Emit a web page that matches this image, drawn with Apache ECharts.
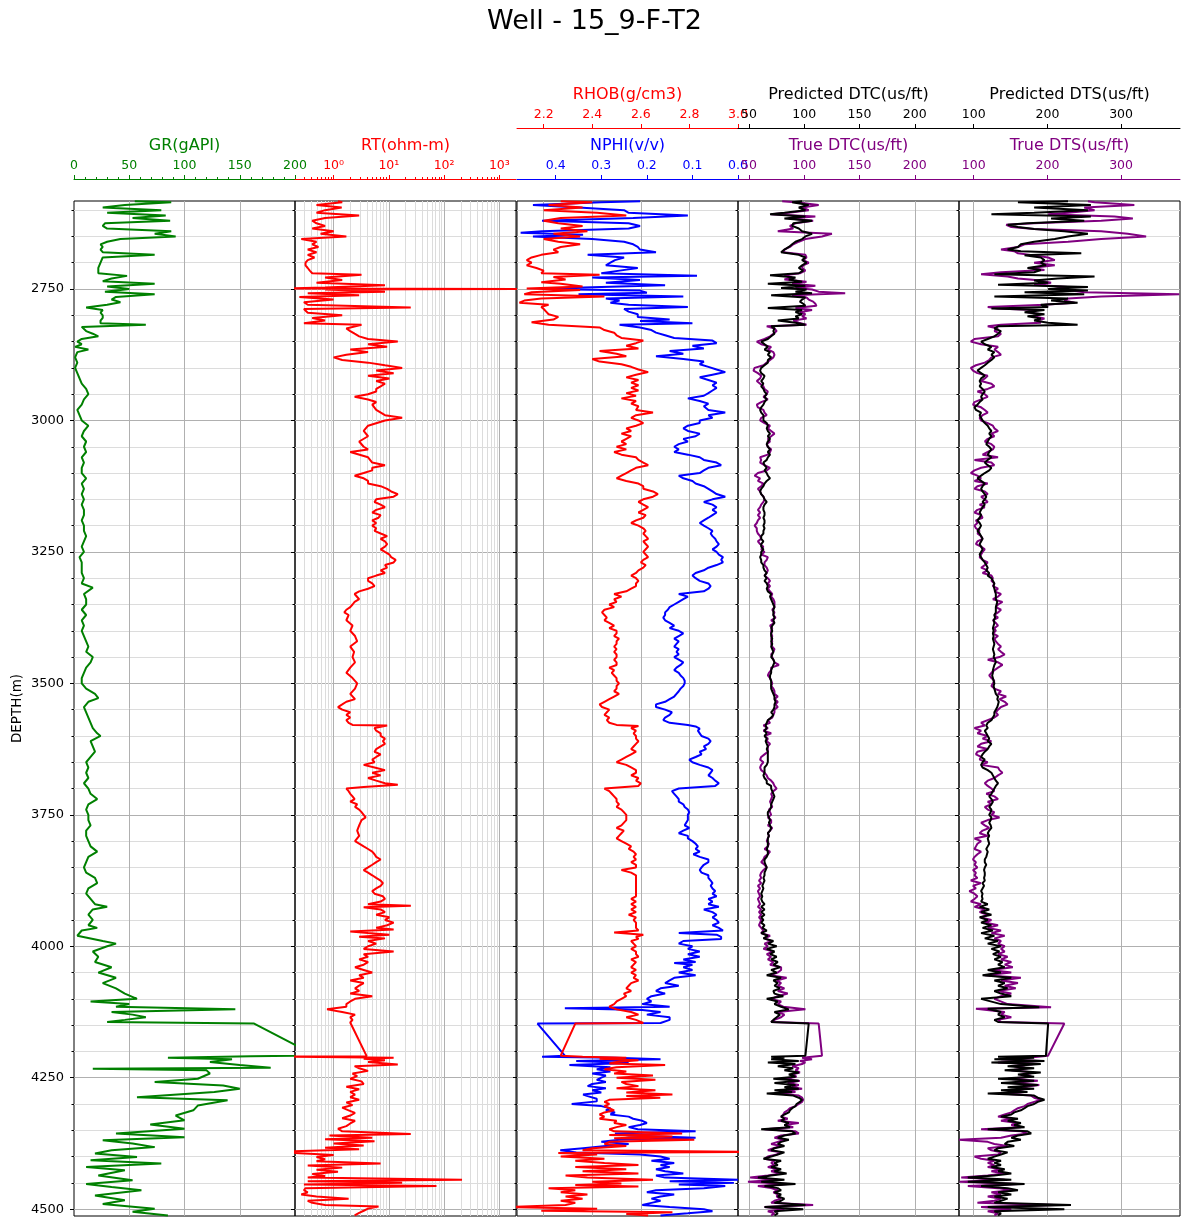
<!DOCTYPE html>
<html>
<head>
<meta charset="utf-8">
<title>Well - 15_9-F-T2</title>
<script src="https://cdn.jsdelivr.net/npm/echarts@6/dist/echarts.min.js"></script>
<style>
html, body { margin: 0; padding: 0; background: #fff; }
#chart { width: 1189px; height: 1228px; }
</style>
</head>
<body>
<div id="chart"></div>
<script>
// ---- depth axis ----
var depthTicks = [2750, 3000, 3250, 3500, 3750, 4000, 4250, 4500];
var depthMinorTicks = [2600, 2650, 2700, 2800, 2850, 2900, 2950, 3050, 3100, 3150, 3200, 3300, 3350, 3400, 3450,
    3550, 3600, 3650, 3700, 3800, 3850, 3900, 3950, 4050, 4100, 4150, 4200, 4300, 4350, 4400, 4450];

// ---- track tick values ----
var rtTicks = [1, 10, 100, 1000];
var rtMinorTicks = [0.3, 0.4, 0.5, 0.6, 0.7, 0.8, 0.9, 2, 3, 4, 5, 6, 7, 8, 9, 20, 30, 40, 50, 60, 70, 80, 90,
    200, 300, 400, 500, 600, 700, 800, 900];
var nphiTicks = [0.4, 0.3, 0.2, 0.1, 0.0];
var rhobTicks = [2.2, 2.4, 2.6, 2.8, 3.0];
var dtcTicks = [50, 100, 150, 200];
var dtsTicks = [100, 200, 300];

// ---- logs: [depth, value] ----
var grLog = [
[2583,55],[2585,88],[2590,46],[2595,26],[2600,79],[2605,30],[2610,83],[2615,53],[2620,87],[2625,28],[2630,26],[2635,30],
[2640,88],[2645,73],[2650,92],[2655,42],[2660,30],[2665,24],[2670,26],[2675,24],[2680,26],[2685,73],[2690,26],[2700,24],
[2710,22],[2720,22],[2725,48],[2730,34],[2735,26],[2740,73],[2745,30],[2750,50],[2755,28],[2760,73],[2765,38],[2770,34],
[2775,42],[2780,30],[2785,11],[2790,26],[2795,24],[2800,26],[2805,26],[2810,24],[2815,24],[2818,65],[2822,7],[2830,11],
[2835,17],[2840,22],[2845,7],[2850,3],[2855,7],[2860,1],[2865,13],[2870,3],[2880,1],[2890,3],[2900,1],[2910,3],[2920,5],
[2930,7],[2940,11],[2950,13],[2960,9],[2970,7],[2980,3],[2990,5],[3000,7],[3010,13],[3020,9],[3030,7],[3040,11],[3050,9],
[3060,11],[3070,7],[3080,9],[3090,7],[3100,7],[3110,11],[3120,7],[3130,9],[3140,7],[3150,9],[3160,7],[3170,9],[3180,9],
[3190,7],[3200,9],[3210,9],[3220,11],[3230,9],[3240,7],[3250,9],[3260,5],[3270,7],[3280,7],[3290,7],[3300,9],[3310,7],
[3318,17],[3330,9],[3340,11],[3350,11],[3360,7],[3370,11],[3380,7],[3390,9],[3400,7],[3410,9],[3420,11],[3430,13],[3440,11],
[3450,17],[3460,15],[3470,11],[3480,9],[3490,7],[3500,7],[3510,11],[3520,19],[3528,22],[3535,13],[3545,9],[3555,11],
[3565,13],[3575,15],[3585,17],[3595,21],[3600,24],[3610,15],[3620,17],[3630,19],[3640,15],[3650,11],[3660,13],[3670,11],
[3680,13],[3690,9],[3700,13],[3710,15],[3720,21],[3730,13],[3740,11],[3750,13],[3760,13],[3770,15],[3780,11],[3790,11],
[3800,13],[3810,15],[3820,21],[3830,13],[3840,11],[3850,9],[3860,11],[3870,19],[3880,21],[3890,13],[3900,11],[3910,15],
[3920,19],[3925,30],[3930,17],[3940,13],[3950,17],[3960,13],[3965,21],[3970,7],[3980,3],[3990,26],[3995,38],[4000,30],
[4010,17],[4020,22],[4030,19],[4040,34],[4050,22],[4060,38],[4070,26],[4080,38],[4090,46],[4100,57],[4105,15],[4110,50],
[4115,38],[4120,146],[4125,34],[4130,53],[4135,65],[4140,46],[4144,30],[4147,163],[4208,219],[4209,160],[4212,85],
[4215,143],[4220,123],[4226,150],[4231,178],[4233,17],[4236,120],[4242,123],[4252,112],[4258,73],[4265,135],[4271,150],
[4277,127],[4287,57],[4293,139],[4303,112],[4312,108],[4322,92],[4331,100],[4339,69],[4347,100],[4356,38],[4363,100],
[4369,26],[4375,53],[4382,73],[4388,34],[4394,19],[4401,57],[4407,15],[4413,79],[4420,11],[4426,46],[4436,22],[4445,53],
[4452,11],[4458,34],[4464,61],[4474,19],[4483,46],[4490,26],[4499,73],[4505,53],[4512,85]
];

var rtLog = [
[2583,1.2],[2585,1.43],[2590,0.49],[2595,1.4],[2600,0.7],[2605,0.49],[2610,2.9],[2615,0.7],[2620,0.41],[2625,0.49],
[2630,0.7],[2635,0.41],[2640,1.0],[2645,0.58],[2650,1.7],[2655,0.26],[2660,0.49],[2665,0.41],[2670,0.53],[2675,0.34],
[2680,0.49],[2685,0.34],[2690,0.45],[2695,0.34],[2700,0.31],[2705,0.31],[2710,0.34],[2715,0.37],[2720,0.41],[2723,3.2],
[2728,0.7],[2733,1.43],[2738,0.49],[2743,8.5],[2747,0.7],[2749,0.15],[2750,5000],[2751,0.7],[2755,8.5],[2758,0.34],
[2762,2.9],[2765,0.24],[2770,1.0],[2775,0.29],[2780,0.34],[2785,24.9],[2788,0.29],[2795,0.34],[2800,1.43],[2805,0.41],
[2810,0.7],[2815,0.29],[2818,3.2],[2825,1.7],[2830,2.0],[2835,2.4],[2840,2.9],[2845,4.2],[2850,14.5],[2855,4.2],
[2860,9.3],[2865,2.0],[2870,4.2],[2875,1.7],[2880,1.0],[2885,1.43],[2890,4.2],[2895,8.5],[2900,17.4],[2905,5.9],
[2910,12.2],[2915,4.2],[2920,10.2],[2925,5.9],[2930,8.5],[2935,7.1],[2940,5.9],[2945,5.9],[2950,4.2],[2955,2.4],
[2960,4.2],[2965,5.9],[2970,5.0],[2980,5.9],[2990,8.5],[2995,17.4],[3000,8.5],[3010,4.2],[3020,3.5],[3030,4.2],
[3040,2.9],[3050,3.5],[3055,4.2],[3060,2.0],[3070,4.2],[3080,5.0],[3085,8.5],[3090,5.0],[3095,5.0],[3100,3.5],[3105,2.4],
[3110,3.5],[3115,4.2],[3120,4.2],[3125,7.1],[3130,9.3],[3135,11],[3140,14.5],[3145,12.2],[3150,5.9],[3155,5.5],[3160,7.1],
[3165,8.5],[3170,5.9],[3175,5.0],[3180,7.1],[3185,6.5],[3190,5.0],[3195,5.9],[3200,5.0],[3205,5.9],[3210,5.5],[3215,7.1],
[3220,9.3],[3225,7.1],[3230,8.5],[3235,9.3],[3240,8.5],[3245,7.1],[3250,8.5],[3255,10.2],[3260,11],[3265,13.3],[3270,12.2],
[3275,8.5],[3280,9.3],[3285,7.1],[3290,8.5],[3295,5.9],[3300,4.2],[3305,4.2],[3310,5.0],[3315,5.5],[3320,4.2],[3325,2.9],
[3330,2.4],[3340,2.9],[3345,2.4],[3350,2.2],[3355,2.0],[3360,1.7],[3365,1.56],[3370,1.87],[3380,1.7],[3390,2.2],[3400,2.0],
[3410,2.44],[3420,2.67],[3430,2.0],[3440,2.35],[3450,2.2],[3460,2.44],[3470,2.0],[3480,1.7],[3490,2.2],[3500,2.67],
[3510,2.44],[3520,2.0],[3530,2.44],[3535,1.7],[3540,1.43],[3545,1.2],[3550,1.43],[3555,2.0],[3560,1.7],[3565,2.0],
[3570,1.7],[3575,1.87],[3579,2.2],[3580,9.3],[3585,5.5],[3590,5.9],[3595,7.1],[3600,7.1],[3605,8.5],[3610,7.8],[3615,8.5],
[3620,7.1],[3625,5.9],[3630,5.5],[3635,7.1],[3640,5.9],[3645,5.0],[3650,5.5],[3655,3.5],[3660,5.5],[3665,8.5],[3670,5.0],
[3675,7.1],[3680,4.2],[3685,5.9],[3690,8.5],[3693,14.5],[3697,3.5],[3700,1.7],[3705,1.87],[3710,2.0],[3715,2.2],[3720,2.4],
[3725,2.0],[3730,2.67],[3735,2.44],[3740,2.9],[3745,3.2],[3750,3.5],[3755,3.8],[3760,3.2],[3770,2.9],[3780,2.67],
[3790,2.9],[3800,2.44],[3810,3.5],[3815,4.2],[3820,5.0],[3825,5.5],[3830,5.9],[3835,7.1],[3840,5.9],[3845,5.0],[3850,4.2],
[3855,3.5],[3860,4.2],[3865,5.0],[3870,5.9],[3875,7.1],[3880,7.8],[3885,7.1],[3890,5.9],[3895,5.0],[3900,5.5],[3905,7.8],
[3910,8.5],[3915,7.1],[3920,4.2],[3923,25],[3926,3.5],[3930,7.1],[3935,8.5],[3940,5.9],[3945,10.2],[3950,8.5],[3955,12.2],
[3960,9.3],[3965,5.9],[3968,12.2],[3972,2.0],[3975,4.2],[3978,10.2],[3982,2.9],[3985,8.5],[3990,4.2],[3995,5.9],[4000,4.2],
[4005,3.5],[4010,12.2],[4015,3.5],[4020,4.2],[4025,2.9],[4030,4.2],[4035,3.5],[4040,2.44],[4045,3.5],[4050,5.0],[4055,2.9],
[4060,3.5],[4065,2.0],[4070,3.5],[4075,2.9],[4080,2.44],[4085,2.9],[4090,2.0],[4095,5.0],[4100,2.44],[4105,2.0],[4110,1.7],
[4115,1.7],[4120,0.76],[4125,1.43],[4130,2.44],[4135,2.0],[4140,2.2],[4145,2.0],[4147,1.87],[4209,3.96],[4210,0.1],
[4212,12.2],[4214,3.5],[4217,8.5],[4220,4.2],[4225,14.5],[4228,2.4],[4232,2.9],[4237,4.2],[4242,2.2],[4247,2.67],[4252,2.0],
[4257,3.2],[4262,3.5],[4267,1.7],[4272,2.9],[4277,2.0],[4282,2.44],[4287,2.0],[4292,2.9],[4297,1.7],[4302,2.2],[4307,1.43],
[4312,1.87],[4317,2.44],[4322,2.0],[4327,1.43],[4332,2.44],[4337,2.0],[4342,1.7],[4347,1.2],[4352,1.43],[4357,24.9],
[4360,0.84],[4364,5.0],[4367,0.7],[4371,5.5],[4375,1.0],[4379,3.5],[4383,0.7],[4386,2.9],[4390,0.18],[4393,0.2],[4397,1.0],
[4401,0.49],[4405,0.7],[4409,0.49],[4413,7.1],[4417,0.34],[4421,1.43],[4425,0.49],[4429,1.2],[4433,0.41],[4437,0.7],
[4440,0.34],[4444,211],[4447,0.34],[4450,17.4],[4453,0.29],[4456,72.7],[4460,0.31],[4464,0.29],[4468,0.34],[4472,0.26],
[4476,0.49],[4480,1.87],[4484,0.34],[4488,0.41],[4492,0.7],[4495,6.5],[4499,4.2],[4503,3.5],[4507,2.9],[4512,2.4]
];

var nphiLog = [
[2583,0.215],[2585,0.30],[2590,0.45],[2595,0.35],[2600,0.25],[2605,0.24],[2610,0.11],[2615,0.23],[2620,0.43],[2625,0.24],
[2630,0.215],[2635,0.24],[2640,0.43],[2643,0.477],[2647,0.34],[2650,0.45],[2655,0.32],[2660,0.25],[2665,0.23],[2670,0.22],
[2675,0.215],[2680,0.18],[2685,0.33],[2690,0.25],[2695,0.27],[2700,0.28],[2705,0.29],[2710,0.22],[2715,0.26],[2720,0.30],
[2725,0.09],[2728,0.32],[2733,0.215],[2738,0.29],[2743,0.16],[2747,0.34],[2750,0.43],[2753,0.215],[2757,0.20],[2760,0.35],
[2764,0.12],[2768,0.29],[2772,0.26],[2776,0.28],[2780,0.24],[2784,0.11],[2788,0.25],[2793,0.24],[2798,0.22],[2803,0.22],
[2808,0.15],[2811,0.215],[2815,0.10],[2818,0.26],[2823,0.215],[2828,0.19],[2833,0.18],[2838,0.16],[2843,0.14],[2848,0.056],
[2853,0.047],[2858,0.10],[2863,0.075],[2868,0.15],[2873,0.12],[2878,0.18],[2883,0.12],[2888,0.075],[2893,0.084],[2898,0.065],
[2903,0.047],[2908,0.028],[2913,0.056],[2918,0.084],[2923,0.065],[2928,0.047],[2933,0.056],[2938,0.047],[2943,0.056],
[2948,0.065],[2953,0.075],[2958,0.11],[2963,0.084],[2968,0.065],[2973,0.075],[2980,0.065],[2985,0.028],[2990,0.065],
[2995,0.056],[3000,0.084],[3005,0.084],[3010,0.11],[3015,0.12],[3020,0.11],[3025,0.084],[3030,0.093],[3035,0.12],[3040,0.11],
[3045,0.13],[3050,0.14],[3055,0.13],[3060,0.14],[3065,0.11],[3070,0.084],[3075,0.075],[3080,0.047],[3085,0.037],[3090,0.065],
[3095,0.075],[3100,0.084],[3105,0.13],[3110,0.12],[3115,0.10],[3120,0.093],[3125,0.075],[3130,0.065],[3135,0.056],[3140,0.047],
[3145,0.028],[3150,0.056],[3155,0.075],[3160,0.056],[3165,0.047],[3170,0.056],[3175,0.047],[3180,0.056],[3185,0.065],
[3190,0.075],[3195,0.084],[3200,0.075],[3205,0.065],[3210,0.056],[3215,0.06],[3220,0.056],[3225,0.05],[3230,0.047],
[3235,0.042],[3240,0.047],[3245,0.056],[3250,0.047],[3255,0.042],[3260,0.033],[3265,0.037],[3270,0.033],[3275,0.047],
[3280,0.065],[3285,0.075],[3290,0.093],[3295,0.10],[3300,0.093],[3305,0.084],[3310,0.065],[3315,0.06],[3320,0.065],
[3325,0.075],[3330,0.13],[3335,0.11],[3340,0.12],[3345,0.13],[3350,0.14],[3355,0.15],[3360,0.154],[3365,0.16],[3370,0.16],
[3375,0.164],[3380,0.16],[3385,0.15],[3390,0.14],[3395,0.15],[3400,0.13],[3405,0.12],[3410,0.13],[3415,0.14],[3420,0.13],
[3425,0.135],[3430,0.14],[3435,0.13],[3440,0.135],[3445,0.13],[3450,0.14],[3455,0.13],[3460,0.12],[3465,0.126],[3470,0.135],
[3475,0.14],[3480,0.13],[3485,0.126],[3490,0.12],[3495,0.117],[3500,0.117],[3505,0.12],[3510,0.126],[3515,0.13],[3520,0.135],
[3525,0.14],[3530,0.15],[3535,0.16],[3540,0.18],[3545,0.18],[3550,0.16],[3555,0.145],[3560,0.15],[3565,0.16],[3570,0.164],
[3575,0.15],[3579,0.11],[3582,0.093],[3586,0.084],[3590,0.088],[3595,0.084],[3600,0.08],[3605,0.065],[3610,0.06],[3615,0.065],
[3620,0.075],[3625,0.07],[3630,0.084],[3635,0.08],[3640,0.093],[3645,0.107],[3650,0.10],[3655,0.084],[3660,0.065],[3665,0.056],
[3670,0.06],[3675,0.065],[3680,0.056],[3685,0.05],[3690,0.042],[3695,0.05],[3700,0.13],[3705,0.145],[3710,0.14],[3715,0.135],
[3720,0.13],[3725,0.13],[3730,0.12],[3735,0.117],[3740,0.11],[3745,0.107],[3750,0.11],[3760,0.11],[3770,0.117],[3775,0.107],
[3780,0.12],[3785,0.13],[3790,0.11],[3795,0.11],[3800,0.10],[3805,0.093],[3810,0.088],[3815,0.093],[3820,0.084],[3825,0.098],
[3830,0.084],[3835,0.065],[3840,0.065],[3845,0.075],[3850,0.08],[3855,0.084],[3860,0.08],[3865,0.065],[3870,0.065],[3875,0.06],
[3880,0.056],[3885,0.06],[3890,0.056],[3895,0.05],[3900,0.056],[3905,0.047],[3910,0.065],[3915,0.056],[3920,0.065],[3925,0.042],
[3930,0.075],[3935,0.056],[3940,0.047],[3945,0.056],[3950,0.047],[3955,0.042],[3960,0.056],[3965,0.042],[3970,0.033],[3975,0.13],
[3978,0.047],[3982,0.037],[3986,0.037],[3990,0.12],[3995,0.13],[4000,0.10],[4005,0.11],[4010,0.084],[4015,0.11],[4020,0.084],
[4025,0.12],[4030,0.093],[4032,0.14],[4035,0.10],[4040,0.12],[4045,0.10],[4050,0.13],[4055,0.093],[4060,0.14],[4065,0.15],
[4070,0.16],[4075,0.13],[4080,0.17],[4085,0.18],[4090,0.16],[4095,0.19],[4100,0.20],[4105,0.19],[4110,0.21],[4115,0.15],
[4118,0.38],[4121,0.21],[4125,0.17],[4130,0.20],[4135,0.15],[4140,0.15],[4146,0.17],[4147,0.44],[4208,0.38],[4210,0.43],
[4212,0.27],[4215,0.17],[4218,0.355],[4222,0.24],[4226,0.37],[4230,0.28],[4234,0.31],[4238,0.28],[4242,0.32],[4246,0.29],
[4250,0.30],[4254,0.31],[4258,0.29],[4262,0.32],[4266,0.33],[4270,0.29],[4274,0.32],[4278,0.30],[4282,0.34],[4285,0.33],
[4290,0.31],[4295,0.31],[4300,0.365],[4304,0.30],[4308,0.28],[4312,0.29],[4316,0.27],[4320,0.28],[4324,0.24],[4328,0.23],
[4332,0.21],[4336,0.20],[4340,0.215],[4344,0.24],[4348,0.22],[4352,0.093],[4356,0.27],[4360,0.24],[4364,0.093],[4368,0.26],
[4372,0.30],[4376,0.24],[4380,0.29],[4384,0.34],[4388,0.39],[4392,0.355],[4396,0.215],[4400,0.17],[4404,0.15],[4408,0.19],
[4412,0.14],[4416,0.17],[4420,0.15],[4424,0.18],[4428,0.16],[4432,0.12],[4436,0.18],[4440,0.16],[4444,0.0],[4447,0.15],
[4450,0.009],[4453,0.13],[4456,0.028],[4460,0.075],[4464,0.18],[4468,0.20],[4472,0.14],[4476,0.17],[4480,0.19],[4484,0.17],
[4488,0.19],[4492,0.21],[4496,0.15],[4500,0.075],[4504,0.056],[4508,0.11],[4512,0.17]
];

var rhobLog = [
[2583,2.27],[2585,2.40],[2590,2.22],[2595,2.36],[2600,2.20],[2605,2.42],[2610,2.54],[2615,2.27],[2620,2.20],[2625,2.26],
[2630,2.36],[2635,2.27],[2640,2.38],[2645,2.24],[2650,2.35],[2655,2.20],[2660,2.26],[2665,2.35],[2670,2.27],[2675,2.24],
[2680,2.26],[2685,2.19],[2690,2.15],[2695,2.13],[2700,2.15],[2705,2.13],[2710,2.17],[2715,2.20],[2720,2.19],[2723,2.43],
[2727,2.24],[2732,2.29],[2737,2.19],[2740,2.27],[2745,2.36],[2749,2.13],[2752,2.35],[2756,2.15],[2760,2.12],[2764,2.45],
[2768,2.19],[2772,2.12],[2776,2.10],[2780,2.22],[2784,2.19],[2788,2.20],[2793,2.21],[2798,2.22],[2803,2.26],[2808,2.24],
[2813,2.15],[2818,2.22],[2823,2.43],[2828,2.45],[2833,2.49],[2838,2.50],[2843,2.52],[2848,2.61],[2853,2.58],[2858,2.54],
[2863,2.59],[2868,2.43],[2873,2.50],[2878,2.54],[2883,2.40],[2888,2.43],[2893,2.52],[2898,2.56],[2903,2.59],[2908,2.63],
[2913,2.58],[2918,2.54],[2923,2.59],[2928,2.56],[2933,2.59],[2938,2.56],[2943,2.59],[2948,2.54],[2953,2.58],[2958,2.52],
[2963,2.58],[2968,2.56],[2973,2.59],[2980,2.58],[2985,2.65],[2990,2.58],[2995,2.56],[3000,2.59],[3005,2.61],[3010,2.58],
[3015,2.54],[3020,2.56],[3025,2.52],[3030,2.56],[3035,2.54],[3040,2.52],[3045,2.54],[3050,2.50],[3055,2.54],[3060,2.49],
[3065,2.52],[3070,2.58],[3075,2.59],[3080,2.61],[3085,2.63],[3090,2.58],[3095,2.56],[3100,2.54],[3105,2.52],[3110,2.50],
[3115,2.54],[3120,2.59],[3125,2.61],[3130,2.61],[3135,2.65],[3140,2.67],[3145,2.65],[3150,2.61],[3155,2.59],[3160,2.61],
[3165,2.63],[3170,2.61],[3175,2.59],[3180,2.62],[3185,2.61],[3190,2.58],[3195,2.56],[3200,2.59],[3205,2.61],[3210,2.62],
[3215,2.61],[3220,2.62],[3225,2.63],[3230,2.61],[3235,2.62],[3240,2.63],[3245,2.62],[3250,2.61],[3255,2.62],[3260,2.63],
[3265,2.61],[3270,2.60],[3275,2.62],[3280,2.61],[3285,2.59],[3290,2.58],[3295,2.56],[3300,2.58],[3305,2.59],[3310,2.58],
[3315,2.58],[3320,2.56],[3325,2.54],[3330,2.49],[3335,2.52],[3340,2.49],[3345,2.50],[3350,2.47],[3355,2.49],[3360,2.45],
[3365,2.44],[3370,2.45],[3375,2.46],[3380,2.45],[3385,2.47],[3390,2.49],[3395,2.47],[3400,2.50],[3405,2.50],[3410,2.49],
[3415,2.51],[3420,2.50],[3425,2.50],[3430,2.49],[3435,2.50],[3440,2.49],[3445,2.50],[3450,2.50],[3455,2.49],[3460,2.50],
[3465,2.50],[3470,2.47],[3475,2.49],[3480,2.48],[3485,2.49],[3490,2.50],[3495,2.50],[3500,2.51],[3505,2.50],[3510,2.50],
[3515,2.49],[3520,2.51],[3525,2.49],[3530,2.47],[3535,2.45],[3540,2.43],[3545,2.44],[3550,2.47],[3555,2.46],[3560,2.45],
[3565,2.47],[3570,2.46],[3575,2.47],[3579,2.50],[3581,2.59],[3585,2.56],[3590,2.58],[3595,2.57],[3600,2.58],[3605,2.58],
[3610,2.59],[3615,2.58],[3620,2.57],[3625,2.56],[3630,2.58],[3635,2.56],[3640,2.54],[3645,2.52],[3650,2.50],[3655,2.54],
[3660,2.56],[3665,2.58],[3670,2.58],[3675,2.56],[3680,2.59],[3685,2.58],[3690,2.60],[3695,2.59],[3700,2.45],[3705,2.47],
[3710,2.48],[3715,2.49],[3720,2.50],[3725,2.50],[3730,2.51],[3735,2.50],[3740,2.52],[3745,2.53],[3750,2.54],[3760,2.54],
[3770,2.52],[3775,2.50],[3780,2.53],[3785,2.52],[3790,2.51],[3795,2.50],[3800,2.52],[3805,2.54],[3810,2.56],[3815,2.55],
[3820,2.57],[3825,2.58],[3830,2.57],[3835,2.58],[3840,2.56],[3845,2.58],[3850,2.58],[3855,2.52],[3860,2.56],[3865,2.58],
[3870,2.58],[3875,2.58],[3880,2.58],[3885,2.58],[3890,2.58],[3895,2.58],[3900,2.58],[3905,2.58],[3910,2.56],[3915,2.58],
[3920,2.56],[3925,2.58],[3930,2.56],[3935,2.58],[3940,2.55],[3945,2.58],[3950,2.57],[3955,2.58],[3960,2.58],[3965,2.58],
[3970,2.59],[3974,2.49],[3978,2.61],[3982,2.58],[3986,2.59],[3990,2.56],[3995,2.57],[4000,2.58],[4005,2.56],[4010,2.58],
[4015,2.58],[4020,2.59],[4025,2.56],[4030,2.58],[4035,2.57],[4040,2.56],[4045,2.58],[4050,2.56],[4055,2.58],[4060,2.57],
[4065,2.59],[4070,2.56],[4075,2.55],[4080,2.54],[4085,2.56],[4090,2.53],[4095,2.54],[4100,2.52],[4105,2.50],[4110,2.49],
[4115,2.47],[4120,2.50],[4125,2.56],[4130,2.59],[4135,2.54],[4140,2.58],[4146,2.61],[4147,2.33],[4208,2.27],[4210,2.36],
[4212,2.54],[4214,2.43],[4217,2.59],[4220,2.50],[4223,2.47],[4226,2.70],[4230,2.50],[4234,2.45],[4238,2.54],[4242,2.49],
[4246,2.65],[4250,2.50],[4254,2.66],[4258,2.52],[4262,2.54],[4266,2.59],[4270,2.50],[4274,2.66],[4278,2.54],[4282,2.73],
[4285,2.54],[4288,2.68],[4292,2.47],[4296,2.45],[4300,2.47],[4304,2.45],[4308,2.47],[4312,2.49],[4316,2.45],[4320,2.43],
[4324,2.45],[4328,2.43],[4332,2.50],[4336,2.49],[4340,2.54],[4344,2.50],[4348,2.47],[4352,2.49],[4356,2.77],[4359,2.47],
[4362,2.73],[4365,2.49],[4368,2.82],[4372,2.47],[4376,2.45],[4380,2.54],[4384,2.40],[4388,2.36],[4391,3.05],[4393,2.26],
[4396,2.42],[4400,2.27],[4404,2.45],[4408,2.33],[4412,2.45],[4416,2.59],[4420,2.33],[4424,2.54],[4428,2.36],[4432,2.59],
[4436,2.29],[4440,2.38],[4444,2.65],[4448,2.40],[4451,2.52],[4454,2.33],[4457,2.59],[4460,2.22],[4464,2.33],[4468,2.27],
[4472,2.38],[4476,2.29],[4480,2.36],[4484,2.27],[4488,2.33],[4492,2.29],[4496,2.05],[4499,2.42],[4503,2.19],[4506,2.73],
[4509,2.54],[4512,2.63]
];

// ---- sonic logs: [depth, predicted, true] ----
var dtcLog = [
[2583,98,80],[2585,89,92],[2590,104,113],[2595,95,98],[2600,101,104],[2605,82,86],[2608,69,70],[2612,101,110],[2616,82,86],
[2620,107,108],[2625,90,92],[2630,89,87],[2635,95,90],[2640,98,76],[2645,107,125],[2650,101,116],[2655,98,101],[2660,92,95],
[2665,89,90],[2670,86,87],[2675,82,82],[2680,79,81],[2685,95,101],[2690,101,102],[2695,98,99],[2700,102,104],[2705,98,99],
[2710,95,98],[2715,99,101],[2720,95,96],[2724,69,82],[2728,92,89],[2732,86,82],[2736,98,102],[2740,67,89],[2744,101,110],
[2748,79,92],[2751,102,107],[2755,92,113],[2758,107,137],[2762,70,89],[2766,101,102],[2770,98,104],[2774,96,108],[2778,99,110],
[2782,101,111],[2786,67,92],[2790,98,107],[2794,92,96],[2798,98,101],[2802,92,98],[2806,95,102],[2810,76,90],[2814,92,95],
[2818,101,102],[2821,70,66],[2825,73,73],[2830,72,75],[2835,73,72],[2840,70,69],[2845,67,64],[2850,61,57],[2855,64,61],
[2860,67,70],[2865,64,67],[2870,69,72],[2875,67,73],[2880,70,72],[2885,67,69],[2890,67,66],[2895,64,63],[2900,61,55],
[2905,60,54],[2910,61,58],[2915,64,61],[2920,63,60],[2925,61,57],[2930,63,60],[2935,61,63],[2940,63,64],[2945,64,67],
[2950,66,66],[2955,64,63],[2960,66,67],[2965,64,61],[2970,63,57],[2975,61,58],[2980,60,63],[2985,61,64],[2990,63,66],
[2995,63,61],[3000,63,60],[3005,66,64],[3010,67,69],[3015,66,67],[3020,67,70],[3025,69,73],[3030,67,70],[3035,69,67],
[3040,67,69],[3045,66,66],[3050,67,67],[3055,69,70],[3060,67,69],[3065,69,67],[3070,67,60],[3075,66,61],[3080,63,60],
[3085,64,64],[3090,66,69],[3095,64,66],[3100,66,58],[3105,67,55],[3110,69,60],[3115,66,58],[3120,64,63],[3125,63,61],
[3130,61,58],[3135,60,60],[3140,61,61],[3145,63,63],[3150,64,64],[3155,66,63],[3160,64,61],[3165,63,60],[3170,63,58],
[3175,64,60],[3180,64,58],[3185,63,60],[3190,64,58],[3195,64,57],[3200,63,55],[3205,64,57],[3210,63,57],[3215,63,58],
[3220,61,60],[3225,61,61],[3230,63,58],[3235,61,60],[3240,61,63],[3245,63,61],[3250,61,64],[3255,61,61],[3260,60,67],
[3265,61,66],[3270,61,64],[3275,63,64],[3280,63,66],[3285,64,67],[3290,66,66],[3295,64,64],[3300,66,67],[3305,64,69],
[3310,66,67],[3315,67,69],[3320,66,67],[3325,67,69],[3330,70,71],[3335,69,70],[3340,70,72],[3345,71,73],[3350,72,73],
[3355,73,73],[3360,72,71],[3365,72,73],[3370,72,72],[3375,73,74],[3380,72,70],[3385,73,73],[3390,71,69],[3395,70,71],
[3400,71,70],[3405,70,70],[3410,70,71],[3415,71,70],[3420,70,71],[3425,71,70],[3430,70,71],[3435,71,73],[3440,72,72],
[3445,71,70],[3450,70,71],[3455,72,72],[3460,73,73],[3465,72,77],[3470,71,70],[3475,70,70],[3480,70,68],[3485,69,67],
[3490,69,69],[3495,70,70],[3500,70,71],[3505,70,70],[3510,70,72],[3515,71,73],[3520,72,73],[3525,73,76],[3530,73,73],
[3535,74,76],[3540,73,74],[3545,73,76],[3550,72,73],[3555,70,73],[3560,72,72],[3565,70,71],[3570,67,67],[3575,66,69],
[3580,65,63],[3585,66,67],[3590,64,63],[3595,66,70],[3600,64,64],[3605,66,67],[3610,65,66],[3615,66,69],[3620,67,67],
[3625,66,67],[3630,67,67],[3635,67,64],[3640,67,61],[3645,67,60],[3650,67,63],[3655,66,61],[3660,64,60],[3665,64,61],
[3670,64,64],[3675,63,66],[3680,64,67],[3685,66,70],[3690,66,72],[3695,70,73],[3700,70,75],[3705,71,72],[3710,72,70],
[3715,73,71],[3720,72,70],[3725,71,69],[3730,70,70],[3735,70,71],[3740,69,68],[3745,67,69],[3750,67,70],[3755,68,67],
[3760,69,70],[3765,68,70],[3770,69,67],[3775,70,71],[3780,69,69],[3785,67,67],[3790,68,68],[3795,67,67],[3800,67,66],
[3805,67,68],[3810,67,67],[3815,66,64],[3820,67,69],[3825,67,67],[3830,66,64],[3835,64,63],[3840,64,61],[3845,65,64],
[3850,66,66],[3855,65,63],[3860,64,61],[3865,64,60],[3870,63,61],[3875,64,59],[3880,63,61],[3885,62,58],[3890,63,60],
[3895,62,58],[3900,61,59],[3905,62,60],[3910,61,58],[3915,62,59],[3920,64,60],[3925,61,58],[3930,64,61],[3935,61,59],
[3940,64,61],[3945,61,59],[3950,63,61],[3955,61,60],[3960,64,59],[3965,62,61],[3970,66,63],[3975,61,61],[3980,67,69],
[3985,63,64],[3990,72,70],[3995,67,64],[4000,75,67],[4005,66,63],[4010,73,72],[4015,69,66],[4020,75,70],[4025,70,67],
[4030,76,72],[4035,72,69],[4040,78,79],[4045,70,79],[4050,75,76],[4055,66,69],[4060,79,84],[4065,72,75],[4070,76,79],
[4075,73,76],[4080,78,82],[4085,72,76],[4090,73,85],[4095,81,76],[4100,66,70],[4105,76,79],[4110,73,76],[4115,79,81],
[4120,86,101],[4125,73,76],[4130,78,82],[4135,75,79],[4140,72,73],[4144,70,70],[4147,104,113],[4208,101,116],[4210,70,107],
[4212,82,98],[4215,70,107],[4218,95,96],[4221,67,101],[4224,92,98],[4228,76,89],[4232,90,95],[4236,82,92],[4240,95,96],
[4244,86,89],[4248,92,93],[4252,72,82],[4256,95,96],[4260,73,85],[4264,92,95],[4268,82,89],[4271,95,98],[4274,73,85],
[4277,89,92],[4280,66,76],[4284,90,95],[4288,95,98],[4292,98,99],[4296,96,98],[4300,93,95],[4304,92,92],[4308,89,87],
[4312,87,85],[4316,86,82],[4320,82,81],[4324,79,79],[4328,82,85],[4332,79,76],[4336,86,95],[4340,82,82],[4344,87,90],
[4348,61,64],[4352,89,92],[4356,92,95],[4360,82,79],[4364,76,73],[4368,86,82],[4372,79,76],[4376,76,70],[4380,82,79],
[4384,73,72],[4388,70,67],[4392,82,79],[4396,76,75],[4400,70,67],[4404,63,64],[4408,79,73],[4412,73,70],[4416,76,73],
[4420,70,67],[4424,79,76],[4428,73,70],[4432,84,79],[4436,70,67],[4440,58,51],[4444,82,76],[4448,61,49],[4452,92,85],
[4456,64,58],[4460,76,70],[4464,79,76],[4468,73,72],[4472,79,76],[4476,76,75],[4480,82,79],[4484,79,73],[4488,73,70],
[4492,101,108],[4496,64,64],[4500,99,82],[4504,73,67],[4508,76,73],[4512,73,70]
];

var dtsLog = [
[2583,228,255],[2585,160,264],[2590,259,318],[2595,182,250],[2600,255,264],[2605,182,228],[2608,124,201],[2612,259,291],
[2616,205,316],[2620,250,273],[2625,173,182],[2628,146,144],[2632,160,151],[2636,182,182],[2640,223,273],[2645,255,309],
[2650,228,334],[2655,210,273],[2660,182,228],[2665,164,169],[2670,160,160],[2675,146,137],[2678,164,155],[2682,246,160],
[2686,169,182],[2690,191,201],[2695,196,210],[2700,191,182],[2705,198,210],[2710,173,178],[2714,191,196],[2718,182,137],
[2722,128,110],[2726,264,146],[2730,214,160],[2734,182,191],[2738,201,205],[2742,133,182],[2746,255,228],[2750,201,210],
[2753,255,232],[2756,169,250],[2760,250,379],[2764,128,273],[2768,228,228],[2772,205,223],[2776,241,237],[2780,191,196],
[2784,201,119],[2787,124,133],[2790,196,182],[2794,169,173],[2798,196,191],[2802,173,182],[2806,191,196],[2810,182,187],
[2814,201,191],[2818,241,137],[2821,133,119],[2825,128,133],[2830,137,128],[2835,133,137],[2840,128,133],[2845,119,101],
[2850,110,96],[2855,115,110],[2860,124,133],[2865,119,128],[2870,128,133],[2875,124,137],[2880,128,124],[2885,124,121],
[2890,119,115],[2895,115,103],[2900,110,96],[2905,105,99],[2910,110,105],[2915,115,119],[2920,110,115],[2925,108,110],
[2930,110,124],[2935,108,128],[2940,112,119],[2945,115,105],[2950,112,115],[2955,110,119],[2960,112,110],[2965,108,101],
[2970,105,99],[2975,101,110],[2980,103,115],[2985,110,119],[2990,108,112],[2995,110,108],[3000,112,110],[3005,115,119],
[3010,119,126],[3015,121,128],[3020,124,133],[3025,121,124],[3030,124,128],[3035,121,119],[3040,119,115],[3045,117,124],
[3050,121,128],[3055,124,126],[3060,121,119],[3065,119,112],[3070,124,133],[3075,119,101],[3080,115,124],[3085,119,128],
[3090,124,110],[3095,121,101],[3100,115,96],[3105,110,105],[3110,105,110],[3115,110,101],[3120,115,119],[3125,112,105],
[3130,110,101],[3135,112,115],[3140,115,119],[3145,117,110],[3150,115,115],[3155,112,119],[3160,115,108],[3165,112,115],
[3170,110,105],[3175,108,101],[3180,110,110],[3185,108,112],[3190,105,103],[3195,108,105],[3200,110,101],[3205,108,103],
[3210,105,108],[3215,108,105],[3220,110,110],[3225,112,112],[3230,110,105],[3235,108,103],[3240,110,110],[3245,112,115],
[3250,110,112],[3255,108,110],[3260,110,108],[3265,112,112],[3270,115,119],[3275,117,115],[3280,119,110],[3285,117,119],
[3290,121,112],[3295,119,124],[3300,124,126],[3305,126,124],[3310,128,128],[3315,127,126],[3320,128,133],[3325,129,128],
[3330,130,137],[3335,130,133],[3340,130,126],[3345,132,139],[3350,131,133],[3355,130,130],[3360,130,137],[3365,130,133],
[3370,128,128],[3375,129,133],[3380,127,126],[3385,128,130],[3390,127,133],[3395,126,128],[3400,127,130],[3405,126,126],
[3410,127,133],[3415,126,128],[3420,127,130],[3425,128,133],[3430,127,137],[3435,126,133],[3440,127,137],[3445,128,142],
[3450,127,135],[3455,129,119],[3460,130,133],[3465,128,139],[3470,127,133],[3475,126,128],[3480,126,124],[3485,125,121],
[3490,126,124],[3495,127,128],[3500,128,126],[3505,127,124],[3510,128,128],[3515,129,137],[3520,130,133],[3525,133,144],
[3530,132,135],[3535,134,142],[3540,133,146],[3545,132,137],[3550,130,133],[3555,128,130],[3560,128,133],[3565,126,128],
[3570,124,119],[3575,119,110],[3580,117,115],[3585,119,101],[3590,115,110],[3595,117,105],[3600,119,119],[3605,121,112],
[3610,119,124],[3615,124,110],[3620,121,105],[3625,119,119],[3630,115,105],[3635,112,103],[3640,110,110],[3645,115,108],
[3650,112,119],[3655,110,110],[3660,112,133],[3665,119,135],[3670,124,139],[3675,126,133],[3680,128,128],[3685,130,119],
[3690,133,115],[3695,130,119],[3700,128,124],[3705,126,128],[3710,124,117],[3715,121,128],[3720,124,133],[3725,126,119],
[3730,124,124],[3735,121,115],[3740,124,119],[3745,123,128],[3750,121,124],[3755,124,135],[3760,123,119],[3765,121,110],
[3770,123,115],[3775,124,121],[3780,121,112],[3785,119,108],[3790,121,119],[3795,119,101],[3800,120,110],[3805,121,105],
[3810,119,103],[3815,117,101],[3820,119,110],[3825,118,105],[3830,117,101],[3835,115,99],[3840,115,103],[3845,117,101],
[3850,115,105],[3855,114,99],[3860,115,103],[3865,115,101],[3870,114,105],[3875,115,96],[3880,112,110],[3885,114,99],
[3890,112,103],[3895,110,94],[3900,112,101],[3905,111,105],[3910,112,101],[3915,110,96],[3920,119,110],[3925,108,101],
[3930,121,115],[3935,110,108],[3940,124,119],[3945,108,110],[3950,119,124],[3955,110,115],[3960,124,133],[3965,112,119],
[3970,126,137],[3975,110,124],[3980,128,142],[3985,115,128],[3990,133,137],[3995,119,133],[4000,137,142],[4005,124,137],
[4010,135,142],[4015,126,133],[4020,137,146],[4025,128,137],[4030,139,151],[4035,133,142],[4040,142,153],[4045,119,124],
[4050,137,151],[4055,112,115],[4060,151,164],[4065,128,137],[4070,142,160],[4075,133,142],[4080,146,157],[4085,128,133],
[4090,137,151],[4095,151,137],[4100,110,128],[4110,137,146],[4116,189,205],[4119,119,103],[4125,137,142],[4130,133,137],
[4135,142,151],[4140,128,133],[4144,133,137],[4147,201,223],[4208,198,201],[4210,133,203],[4212,182,173],[4215,128,137],
[4218,196,191],[4221,124,133],[4224,191,182],[4228,146,155],[4232,182,173],[4236,142,151],[4240,191,182],[4244,160,169],
[4248,182,178],[4252,133,146],[4256,182,187],[4260,137,151],[4264,187,189],[4268,146,164],[4271,182,173],[4274,137,151],
[4277,173,169],[4280,119,137],[4284,182,178],[4288,187,182],[4292,196,191],[4296,187,182],[4300,182,173],[4304,173,169],
[4308,169,160],[4312,164,155],[4316,155,151],[4320,151,142],[4324,137,133],[4328,160,151],[4332,146,137],[4336,164,160],
[4340,155,151],[4344,169,164],[4348,119,110],[4352,173,164],[4356,178,173],[4360,160,151],[4364,151,137],[4368,164,80],
[4372,146,119],[4376,142,128],[4380,155,146],[4384,133,119],[4388,128,124],[4392,146,137],[4396,137,133],[4400,128,101],
[4404,119,110],[4408,137,128],[4412,128,119],[4416,137,128],[4420,124,119],[4424,142,137],[4428,133,124],[4432,151,142],
[4436,128,119],[4440,92,83],[4444,151,142],[4448,92,81],[4452,169,160],[4456,110,92],[4460,146,133],[4464,160,151],
[4468,133,124],[4472,151,137],[4476,128,119],[4480,146,137],[4484,137,128],[4488,128,105],[4492,232,210],[4496,119,110],
[4500,223,151],[4504,128,119],[4508,137,133],[4512,133,128]
];

var chart = echarts.init(document.getElementById('chart'), null, {renderer: 'canvas'});

var FONT = 'DejaVu Sans';
var GREEN = '#008000', RED = '#ff0000', BLUE = '#0000ff', PURPLE = '#800080', BLACK = '#000000';
var MAJOR_GRID = '#b0b0b0', MINOR_GRID = '#dcdcdc';
var trackLeft = [74, 295, 517, 738, 959];
var DEPTH_TOP = 2582.6, DEPTH_BOTTOM = 4513;
var LOW = 22, HIGH = 73;   // offsets of the two header axes

// pick one value column of a log as [x, depth] points
var column = function (rows, col) {
    var res = [];
    for (var i = 0; i < rows.length; i++) {
        res.push([rows[i][col], rows[i][0]]);
    }
    return res;
};

var sup = ['\u2070', '\u00b9', '\u00b2', '\u00b3'];
var oneDecimal = function (v) { return Number(v).toFixed(1); };

var headerAxis = function (grid, o) {
    return {
        gridIndex: grid,
        type: o.type || 'value',
        logBase: 10,
        position: 'top',
        offset: o.offset,
        min: o.min,
        max: o.max,
        interval: o.interval,
        inverse: !!o.inverse,
        name: o.name,
        nameLocation: 'middle',
        nameGap: 25,
        nameTextStyle: {color: o.color, fontSize: 16, fontFamily: FONT},
        axisLine: {show: o.line !== false, onZero: false, lineStyle: {color: o.color, width: 1}},
        axisTick: {show: true, length: o.tickLen || 4, customValues: o.ticks, lineStyle: {color: o.color, width: 1}},
        minorTick: o.minor ? {show: true, splitNumber: o.minor, length: 2, lineStyle: {color: o.color, width: 1}} : {show: false},
        axisLabel: o.labels === false ? {show: false} : {
            show: true, customValues: o.ticks, color: o.color, fontSize: 12.5, fontFamily: FONT, margin: 7,
            formatter: o.fmt
        },
        splitLine: o.split ? {
            show: true, showMinLine: o.split.min, showMaxLine: o.split.max,
            lineStyle: {color: o.split.color || MAJOR_GRID, width: 1}
        } : {show: false}
    };
};

var xAxes = [
    headerAxis(0, {name: 'GR(gAPI)', color: GREEN, offset: LOW, min: 0, max: 200, interval: 50, minor: 5,
        split: {min: false, max: false}}),
    headerAxis(1, {type: 'log', name: 'RT(ohm-m)', color: RED, offset: LOW, min: 0.2, max: 2000, ticks: rtTicks,
        fmt: function (v) { return '10' + sup[Math.round(Math.log(v) / Math.LN10)]; },
        split: {min: true, max: true}}),
    headerAxis(1, {type: 'log', color: RED, offset: LOW, min: 0.2, max: 2000, ticks: rtMinorTicks, tickLen: 2,
        line: false, labels: false, split: {min: true, max: true, color: MINOR_GRID}}),
    headerAxis(2, {name: 'NPHI(v/v)', color: BLUE, offset: LOW, min: 0, max: 0.485, inverse: true, ticks: nphiTicks,
        fmt: oneDecimal}),
    headerAxis(2, {name: 'RHOB(g/cm3)', color: RED, offset: HIGH, min: 2.09, max: 3.0, ticks: rhobTicks,
        fmt: oneDecimal, split: {min: true, max: false}}),
    headerAxis(3, {name: 'True DTC(us/ft)', color: PURPLE, offset: LOW, min: 40, max: 240, ticks: dtcTicks,
        split: {min: true, max: true}}),
    headerAxis(3, {name: 'Predicted DTC(us/ft)', color: BLACK, offset: HIGH, min: 40, max: 240, ticks: dtcTicks}),
    headerAxis(4, {name: 'True DTS(us/ft)', color: PURPLE, offset: LOW, min: 80, max: 380, ticks: dtsTicks,
        split: {min: true, max: true}}),
    headerAxis(4, {name: 'Predicted DTS(us/ft)', color: BLACK, offset: HIGH, min: 80, max: 380, ticks: dtsTicks})
];

var grids = [], yAxes = [];
for (var t = 0; t < trackLeft.length; t++) {
    grids.push({left: trackLeft[t], top: 201, width: 221, height: 1015, show: true,
        borderColor: '#000', borderWidth: 1, backgroundColor: 'transparent'});
    yAxes.push({
        gridIndex: t, type: 'value', position: 'left', inverse: true, min: DEPTH_TOP, max: DEPTH_BOTTOM,
        name: t === 0 ? 'DEPTH(m)' : '', nameLocation: 'middle', nameGap: 50, nameRotate: 90,
        nameTextStyle: {color: '#000', fontSize: 13.5, fontFamily: FONT},
        axisLine: {show: false, onZero: false},
        axisTick: {show: true, length: 4, customValues: depthTicks, lineStyle: {color: '#000'}},
        axisLabel: {show: t === 0, customValues: depthTicks, color: '#000', fontSize: 13, fontFamily: FONT, margin: 10,
            formatter: function (v) { return String(Math.round(v)); }},
        splitLine: {show: true, lineStyle: {color: MAJOR_GRID, width: 1}}
    });
    yAxes.push({
        gridIndex: t, type: 'value', position: 'left', inverse: true, min: DEPTH_TOP, max: DEPTH_BOTTOM,
        axisLine: {show: false, onZero: false},
        axisTick: {show: true, length: 2.5, customValues: depthMinorTicks, lineStyle: {color: '#000'}},
        axisLabel: {show: false},
        splitLine: {show: true, lineStyle: {color: MINOR_GRID, width: 1}}
    });
}

var curve = function (name, data, xIdx, track, color) {
    return {
        name: name, type: 'line', xAxisIndex: xIdx, yAxisIndex: track * 2,
        data: data, showSymbol: false, symbol: 'none', clip: true, z: 3,
        lineStyle: {color: color, width: 2}, itemStyle: {color: color},
        emphasis: {disabled: true}
    };
};

chart.setOption({
    backgroundColor: '#fff',
    animation: false,
    textStyle: {fontFamily: FONT},
    title: {
        text: 'Well - 15_9-F-T2', left: 'center', top: 8, padding: 0,
        textStyle: {color: '#000', fontSize: 27, fontWeight: 'normal', fontFamily: FONT}
    },
    grid: grids,
    xAxis: xAxes,
    yAxis: yAxes,
    series: [
        curve('GR', column(grLog, 1), 0, 0, GREEN),
        curve('RT', column(rtLog, 1), 1, 1, RED),
        curve('NPHI', column(nphiLog, 1), 3, 2, BLUE),
        curve('RHOB', column(rhobLog, 1), 4, 2, RED),
        curve('True DTC', column(dtcLog, 2), 5, 3, PURPLE),
        curve('Predicted DTC', column(dtcLog, 1), 6, 3, BLACK),
        curve('True DTS', column(dtsLog, 2), 7, 4, PURPLE),
        curve('Predicted DTS', column(dtsLog, 1), 8, 4, BLACK)
    ]
});
</script>
</body>
</html>
